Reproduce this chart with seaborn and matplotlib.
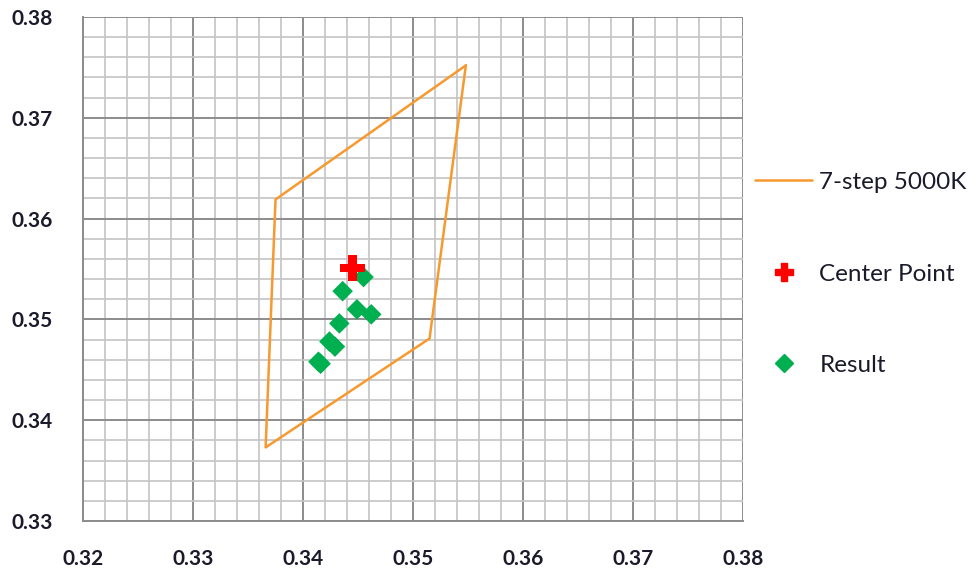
import matplotlib
matplotlib.use("Agg")
import matplotlib.pyplot as plt
import seaborn as sns
import pandas as pd
import numpy as np
from matplotlib.ticker import MultipleLocator
from matplotlib.lines import Line2D

# --- data ---
quad_x = [0.3548, 0.3375, 0.3366, 0.3515, 0.3548]
quad_y = [0.3752, 0.3619, 0.3373, 0.3481, 0.3752]

center_x = [0.3445]
center_y = [0.3551]

result_x = [0.3455, 0.3436, 0.3449, 0.3462, 0.3433, 0.3424, 0.3429, 0.3416, 0.3414]
result_y = [0.3542, 0.3528, 0.3510, 0.3505, 0.3496, 0.3478, 0.3473, 0.3456, 0.3458]

sns.set_theme(style="white")
plt.rcParams['font.family'] = ['Lato', 'DejaVu Sans']

fig = plt.figure(figsize=(9.79, 5.84), dpi=100)
ax = fig.add_axes([0.0848, 0.1079, 0.6742, 0.8630])

quad = pd.DataFrame({"x": quad_x, "y": quad_y})
sns.lineplot(data=quad, x="x", y="y", sort=False, estimator=None, color="#F7992E",
             linewidth=1.8, ax=ax, zorder=3)

res = pd.DataFrame({"x": result_x, "y": result_y})
sns.scatterplot(data=res, x="x", y="y", marker="D", s=110, color="#00B050",
                edgecolor="none", ax=ax, zorder=4)

cen = pd.DataFrame({"x": center_x, "y": center_y})
sns.scatterplot(data=cen, x="x", y="y", marker="P", s=330, color="#FF0000",
                edgecolor="none", ax=ax, zorder=5)

ax.set_xlim(0.32, 0.38)
ax.set_ylim(0.33, 0.38)
ax.xaxis.set_minor_locator(MultipleLocator(0.002))
ax.yaxis.set_minor_locator(MultipleLocator(0.002))
ax.grid(which="minor", color="#C4C4C4", linewidth=1.2)
ax.grid(which="major", color="#8C8C8C", linewidth=1.4)
ax.set_axisbelow(True)
ax.set_xlabel("")
ax.set_ylabel("")

for side in ["top", "right"]:
    ax.spines[side].set_visible(False)
for side in ["left", "bottom"]:
    ax.spines[side].set_color("#8C8C8C")
    ax.spines[side].set_linewidth(1.4)

ax.tick_params(axis="both", which="major", direction="out", length=8, width=1.4,
               color="#8C8C8C", labelsize=15, labelcolor="#1A1A2A", pad=14)
ax.tick_params(axis="both", which="minor", length=0)
ax.tick_params(axis="x", pad=12)
xt = np.arange(0.32, 0.3801, 0.01)
yt = np.arange(0.33, 0.3801, 0.01)
ax.set_xticks(xt)
ax.set_xticklabels([f"{v:.2f}" for v in xt])
ax.set_yticks(yt)
ax.set_yticklabels([f"{v:.2f}" for v in yt])
for lbl in ax.get_xticklabels() + ax.get_yticklabels():
    lbl.set_fontweight("bold")

handles = [
    Line2D([0], [0], color="#F7992E", linewidth=1.8),
    Line2D([0], [0], marker="P", color="#FF0000", linestyle="none", markersize=13),
    Line2D([0], [0], marker="D", color="#00B050", linestyle="none", markersize=9),
]
labels = ["7-step 5000K", "Center Point", "Result"]
fig.legend(handles, labels, loc="upper left", bbox_to_anchor=(0.7712, 0.7055),
           frameon=False, fontsize=17.5, labelspacing=2.9, handlelength=2.35,
           handletextpad=0.3, borderpad=0, borderaxespad=0, labelcolor="#1A1A2A")

fig.savefig("out.png", dpi=100)
